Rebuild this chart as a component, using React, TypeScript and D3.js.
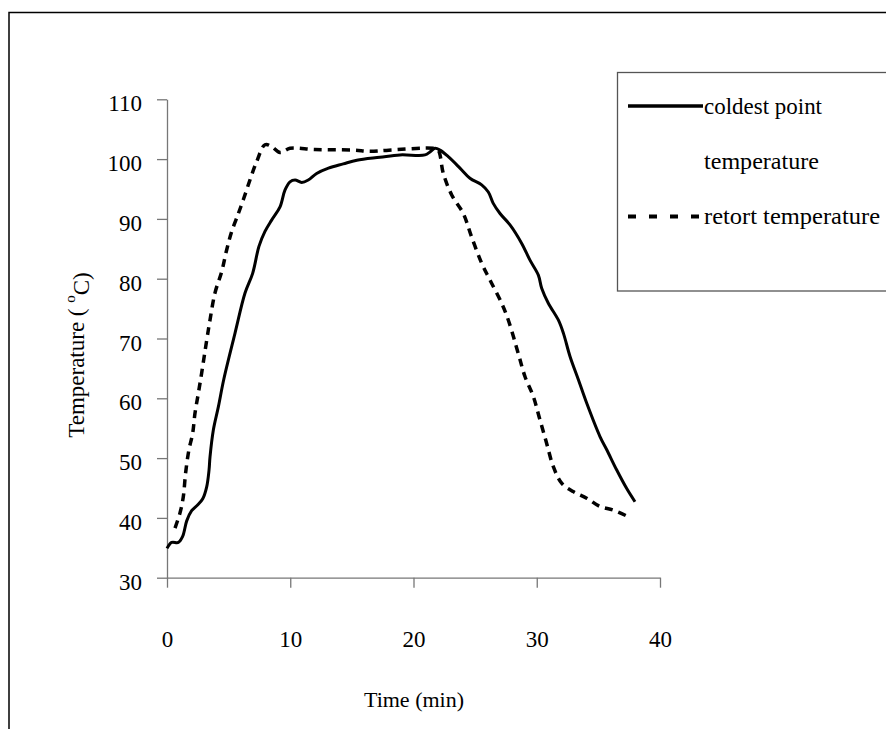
import React, { useRef, useEffect } from 'react';
import * as d3 from 'd3';

// coldest point temperature (solid)
const coldTime = [0, 0.38, 0.92, 1.27, 1.6, 2.0, 2.5, 2.9, 3.22, 3.41, 3.49, 3.76, 4.17, 4.6, 5.52, 6.33, 6.95, 7.46, 7.95, 8.49, 9.17, 9.57, 9.98, 10.39, 10.93, 11.46, 12.14, 13.1, 14.3, 15.4, 17.28, 18.9, 20.93, 21.34, 21.74, 22.15, 22.82, 23.77, 24.58, 25.53, 26.07, 26.47, 27.02, 27.83, 28.78, 29.45, 30.13, 30.4, 30.94, 31.75, 32.16, 32.7, 33.38, 34.05, 35.13, 35.68, 36.49, 37.3, 37.97];
const coldTemp = [34.9, 35.9, 35.9, 36.9, 39.5, 41.2, 42.2, 43.2, 45.2, 48.0, 50.2, 54.7, 58.6, 63.1, 70.9, 77.6, 80.9, 85.4, 87.9, 89.8, 92.0, 94.8, 96.2, 96.5, 96.1, 96.5, 97.6, 98.5, 99.2, 99.8, 100.3, 100.7, 100.7, 101.2, 101.8, 101.5, 100.4, 98.5, 96.8, 95.7, 94.5, 92.6, 90.9, 89.0, 85.9, 83.1, 80.6, 78.4, 75.9, 73.1, 70.9, 67.0, 63.1, 59.2, 53.6, 51.4, 48.0, 44.9, 42.7];

// retort temperature (dashed)
const retortTime = [0.65, 1.05, 1.32, 1.51, 1.78, 2.08, 2.27, 2.54, 2.81, 3.22, 3.49, 3.89, 4.44, 4.84, 5.25, 5.79, 6.19, 6.73, 7.28, 7.95, 8.49, 9.17, 9.98, 12, 15.1, 16.5, 18, 21.6, 22.0, 22.42, 23.1, 24.04, 24.71, 25.53, 26.2, 27.15, 27.69, 28.5, 29.05, 29.72, 30.26, 30.8, 31.34, 32.02, 32.96, 34.05, 35.13, 36.21, 37.43];
const retortTemp = [38.3, 40.8, 43.5, 47.5, 51.4, 54.1, 57.5, 60.8, 64.2, 69.7, 73.1, 77.6, 81.2, 84.8, 87.9, 90.9, 93.2, 96.5, 99.6, 102.4, 102.1, 101.1, 101.8, 101.6, 101.5, 101.3, 101.5, 101.8, 101.5, 97.6, 94.0, 90.9, 87.0, 82.6, 79.8, 75.9, 73.1, 67.5, 63.6, 60.3, 56.4, 52.5, 48.6, 45.8, 44.4, 43.3, 41.9, 41.3, 40.2];

const xTicks = [0, 10, 20, 30, 40];
const yTicks = [30, 40, 50, 60, 70, 80, 90, 100, 110];
const legendLabels = ['coldest point', 'temperature', 'retort temperature'];

const FONT = '"Liberation Serif", "Times New Roman", serif';

const Chart = () => {
    const ref = useRef(null);

    useEffect(() => {
        const width = 886;
        const height = 729;
        const svg = d3.select(ref.current);
        svg.selectAll('*').remove();

        svg.append('rect').attr('width', width).attr('height', height).attr('fill', '#fff');

        // outer frame (only top and left visible)
        svg.append('path')
            .attr('d', 'M9,729 L9,12.5 L886,12.5')
            .attr('fill', 'none')
            .attr('stroke', '#000')
            .attr('stroke-width', 1.5);

        const x = d3.scaleLinear().domain([0, 40]).range([167, 660]);
        const y = d3.scaleLinear().domain([30, 110]).range([577.7, 99.3]);

        const xAxis = svg.append('g')
            .attr('transform', `translate(0,${y(30)})`)
            .call(d3.axisBottom(x).tickValues(xTicks).tickSize(10).tickSizeOuter(0).tickPadding(43));
        const yAxis = svg.append('g')
            .attr('transform', `translate(${x(0)},0)`)
            .call(d3.axisLeft(y).tickValues(yTicks).tickSize(10).tickSizeOuter(0).tickPadding(15));

        [xAxis, yAxis].forEach(g => {
            g.select('.domain').attr('stroke', '#777').attr('stroke-width', 1.3);
            g.selectAll('.tick line').attr('stroke', '#777').attr('stroke-width', 1.3);
            g.selectAll('.tick text')
                .attr('fill', '#000')
                .style('font-family', FONT)
                .style('font-size', '23px');
        });
        yAxis.selectAll('.tick text').attr('dy', '0.5em');

        const line = d3.line()
            .x(d => x(d[0]))
            .y(d => y(d[1]))
            .curve(d3.curveCatmullRom.alpha(0.5));

        const coldData = coldTime.map((t, i) => [t, coldTemp[i]]);
        const retortData = retortTime.map((t, i) => [t, retortTemp[i]]);

        svg.append('path')
            .datum(retortData)
            .attr('d', line)
            .attr('fill', 'none')
            .attr('stroke', '#000')
            .attr('stroke-width', 3.5)
            .attr('stroke-dasharray', '8,6');

        svg.append('path')
            .datum(coldData)
            .attr('d', line)
            .attr('fill', 'none')
            .attr('stroke', '#000')
            .attr('stroke-width', 3);

        // axis titles
        svg.append('text')
            .attr('x', 414)
            .attr('y', 707)
            .attr('text-anchor', 'middle')
            .style('font-family', FONT)
            .style('font-size', '22px')
            .text('Time (min)');

        const yl = svg.append('text')
            .attr('transform', 'translate(84,355) rotate(-90)')
            .attr('text-anchor', 'middle')
            .style('font-family', FONT)
            .style('font-size', '23px');
        yl.append('tspan').text('Temperature ( ');
        yl.append('tspan').attr('dy', '-0.6em').style('font-size', '15px').text('o');
        yl.append('tspan').attr('dy', '0.6em').text('C)');

        // legend
        const lg = svg.append('g');
        lg.append('rect')
            .attr('x', 617.5).attr('y', 72.5)
            .attr('width', 300).attr('height', 218.5)
            .attr('fill', '#fff')
            .attr('stroke', '#555')
            .attr('stroke-width', 1.3);
        lg.append('line')
            .attr('x1', 628).attr('x2', 703).attr('y1', 106).attr('y2', 106)
            .attr('stroke', '#000').attr('stroke-width', 3.5);
        lg.append('line')
            .attr('x1', 628).attr('x2', 703).attr('y1', 216.5).attr('y2', 216.5)
            .attr('stroke', '#000').attr('stroke-width', 4)
            .attr('stroke-dasharray', '8,13');
        const legendY = [114, 169, 224];
        const legendW = [118, 115, 176];
        legendLabels.forEach((t, i) => {
            lg.append('text')
                .attr('x', 704).attr('y', legendY[i])
                .attr('textLength', legendW[i])
                .attr('lengthAdjust', 'spacingAndGlyphs')
                .style('font-family', FONT)
                .style('font-size', '23px')
                .text(t);
        });
    }, []);

    return (
        <svg ref={ref} width={886} height={729}
            style={{ position: 'absolute', left: 0, top: 0, display: 'block' }} />
    );
};

const App = () => <Chart />;

export default App;
